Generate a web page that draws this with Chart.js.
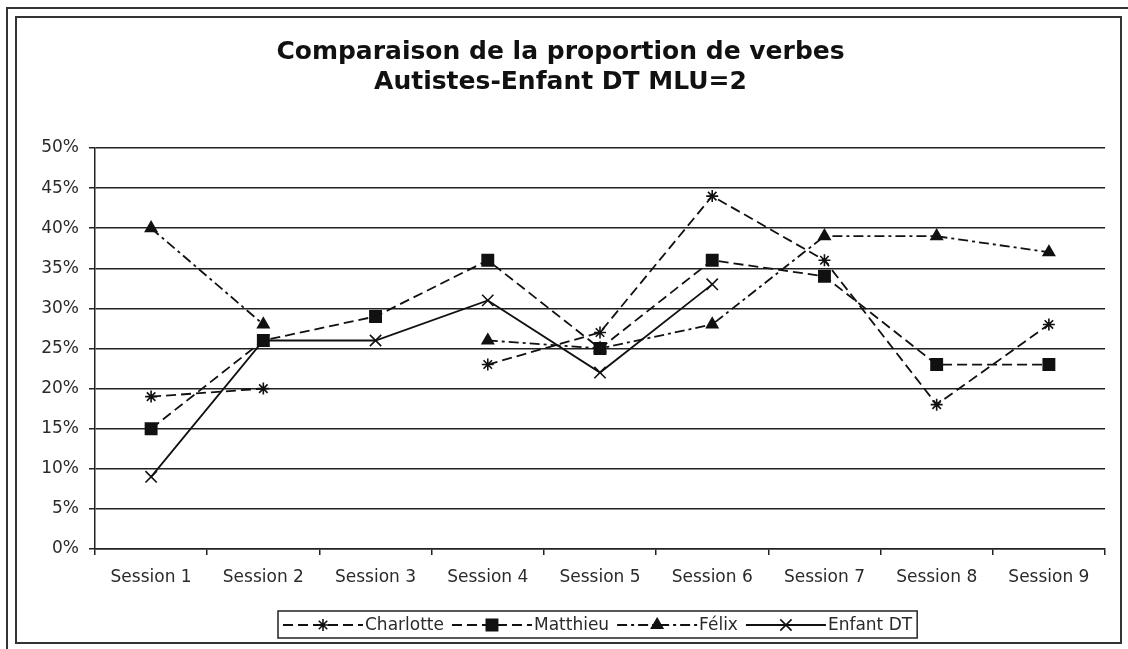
<!DOCTYPE html>
<html>
<head>
<meta charset="utf-8">
<title>Comparaison de la proportion de verbes</title>
<script src="https://cdn.jsdelivr.net/npm/chart.js@4.4.0/dist/chart.umd.min.js"></script>
<style>
  html, body { margin: 0; padding: 0; background: #fff; }
  #wrap { width: 1128px; height: 649px; }
</style>
</head>
<body>
<div id="wrap"><canvas id="chart" width="1128" height="649"></canvas></div>
<script>
const sessions = ['Session 1', 'Session 2', 'Session 3', 'Session 4', 'Session 5',
                  'Session 6', 'Session 7', 'Session 8', 'Session 9'];
const charlotte = [19, 20, null, 23, 27, 44, 36, 18, 28];
const matthieu  = [15, 26, 29, 36, 25, 36, 34, 23, 23];
const felix     = [40, 28, null, 26, 25, 28, 39, 39, 37];
const enfantDT  = [9, 26, 26, 31, 22, 33, null, null, null];
const titleLines = ['Comparaison de la proportion de verbes', 'Autistes-Enfant DT MLU=2'];

const FONT = 'DejaVu Sans';
const INK = '#111';
const TEXT = '#2a2a2a';

function series(label, data, pointStyle, radius, dash) {
  return {
    label, data, pointStyle,
    borderColor: INK, backgroundColor: INK,
    pointBackgroundColor: INK, pointBorderColor: INK,
    borderWidth: 1.8, pointRadius: radius, pointBorderWidth: 1.6,
    borderDash: dash, tension: 0, spanGaps: false
  };
}

// double frame around the whole figure
const framePlugin = {
  id: 'frame',
  beforeDraw(chart) {
    const ctx = chart.ctx;
    ctx.save();
    ctx.fillStyle = '#fff';
    ctx.fillRect(0, 0, chart.width, chart.height);
    ctx.strokeStyle = '#333';
    ctx.lineWidth = 2;
    ctx.beginPath();
    ctx.moveTo(7, chart.height);
    ctx.lineTo(7, 8);
    ctx.lineTo(chart.width, 8);
    ctx.stroke();
    ctx.strokeRect(16, 17, 1105, 626);
    ctx.restore();
  }
};

// boxed legend: dashed line sample with marker, then name
const lineLegend = {
  id: 'lineLegend',
  afterDraw(chart) {
    const ctx = chart.ctx;
    const sample = 80, gapText = 2, gapItem = 8, padX = 5;
    const y = 625;
    ctx.save();
    ctx.font = '17px "' + FONT + '"';
    const items = chart.data.datasets.map(ds => ({ ds, w: ctx.measureText(ds.label).width }));
    const total = items.reduce((s, it) => s + sample + gapText + it.w, 0) + gapItem * (items.length - 1) + padX * 2;
    let x = Math.round(598 - total / 2);
    ctx.strokeStyle = '#222';
    ctx.lineWidth = 1.5;
    ctx.strokeRect(x, 611, total, 27);
    x += padX;
    items.forEach(({ ds, w }) => {
      ctx.strokeStyle = INK;
      ctx.lineWidth = ds.borderWidth;
      ctx.setLineDash(ds.borderDash || []);
      ctx.beginPath();
      ctx.moveTo(x, y);
      ctx.lineTo(x + sample, y);
      ctx.stroke();
      ctx.setLineDash([]);
      ctx.fillStyle = INK;
      ctx.lineWidth = ds.pointBorderWidth;
      Chart.helpers.drawPoint(ctx, {
        pointStyle: ds.pointStyle, radius: ds.pointRadius,
        borderWidth: ds.pointBorderWidth, rotation: 0
      }, x + sample / 2, y);
      ctx.fillStyle = TEXT;
      ctx.textBaseline = 'middle';
      ctx.fillText(ds.label, x + sample + gapText, y + 1);
      x += sample + gapText + w + gapItem;
    });
    ctx.restore();
  }
};

new Chart(document.getElementById('chart'), {
  type: 'line',
  data: {
    labels: sessions,
    datasets: [
      series('Charlotte', charlotte, 'star', 6, [10, 5]),
      series('Matthieu', matthieu, 'rect', 8, [10, 5]),
      series('Félix', felix, 'triangle', 6.5, [10, 4, 3, 4]),
      series('Enfant DT', enfantDT, 'crossRot', 8, [])
    ]
  },
  options: {
    responsive: false,
    animation: false,
    devicePixelRatio: 1,
    layout: { padding: { left: 16, right: 23, top: 0, bottom: 50 } },
    plugins: {
      legend: { display: false },
      tooltip: { enabled: false },
      title: {
        display: true,
        text: titleLines,
        color: INK,
        font: { family: FONT, size: 25, weight: 'bold', lineHeight: 1.2 },
        padding: { top: 37, bottom: 51 }
      }
    },
    scales: {
      x: {
        offset: true,
        grid: { drawOnChartArea: false, drawTicks: true, tickLength: 6, color: '#222', lineWidth: 1.5, offset: true },
        border: { display: true, color: '#222', width: 1.5 },
        ticks: { color: TEXT, font: { family: FONT, size: 17 }, padding: 12, maxRotation: 0, autoSkip: false },
        afterFit(scale) { scale.height = 50; }
      },
      y: {
        min: 0, max: 50,
        grid: { color: '#222', lineWidth: 1.5, tickLength: 6 },
        border: { display: true, color: '#222', width: 1.5 },
        ticks: { stepSize: 5, color: TEXT, font: { family: FONT, size: 17 }, padding: 10,
                 callback: v => v + '%' },
        afterFit(scale) { scale.width = 79; }
      }
    }
  },
  plugins: [framePlugin, lineLegend]
});
</script>
</body>
</html>
